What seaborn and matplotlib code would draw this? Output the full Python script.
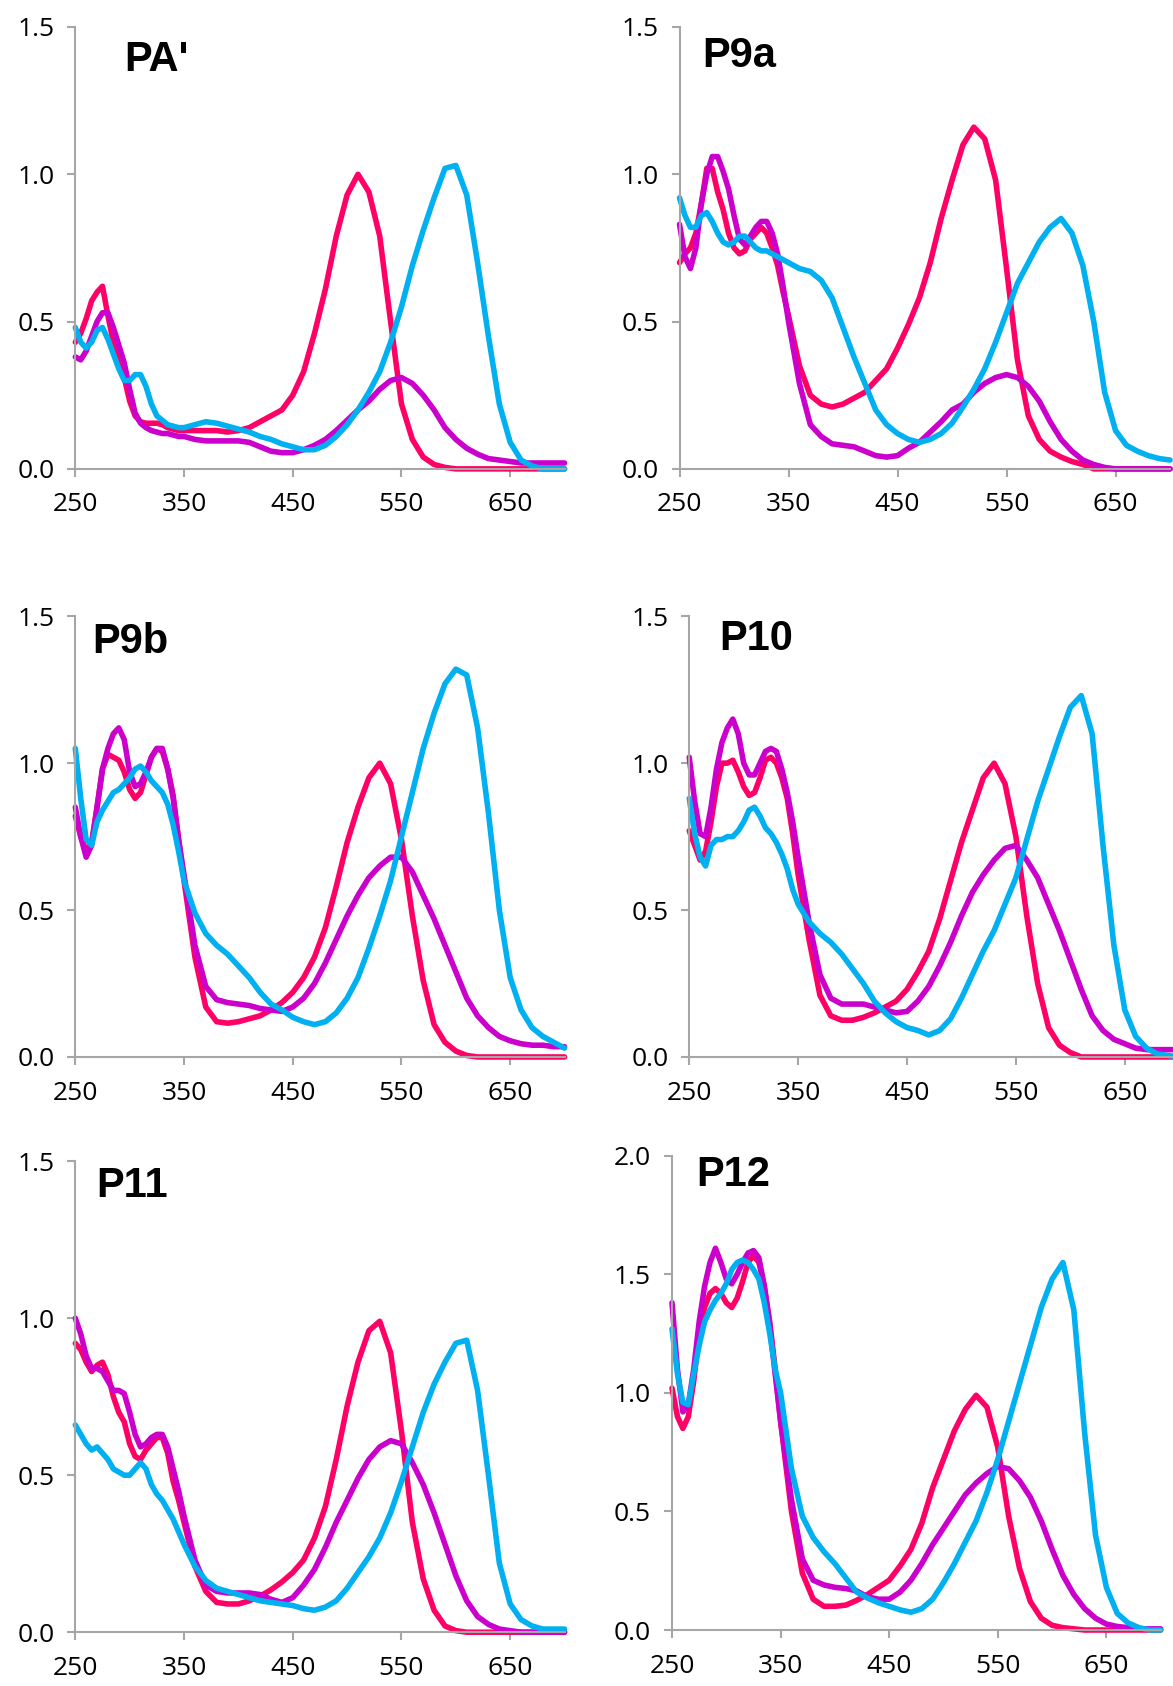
import matplotlib
matplotlib.use("Agg")
import matplotlib.pyplot as plt
import pandas as pd
import seaborn as sns

# wavelength grid (nm): 5 nm steps in the UV part, 10 nm afterwards
wavelength = [250, 255, 260, 265, 270, 275, 280, 285, 290, 295, 300, 305, 310, 315, 320, 325, 330, 335, 340, 345,
              350, 360, 370, 380, 390, 400, 410, 420, 430, 440, 450, 460, 470, 480, 490, 500, 510, 520, 530, 540,
              550, 560, 570, 580, 590, 600, 610, 620, 630, 640, 650, 660, 670, 680, 690, 700]

# PA'
pa_red = [0.43, 0.46, 0.51, 0.57, 0.60, 0.62, 0.52, 0.43, 0.36, 0.31, 0.23, 0.18, 0.16, 0.155, 0.155, 0.155, 0.15, 0.14, 0.135, 0.13,
          0.13, 0.13, 0.13, 0.13, 0.125, 0.13, 0.14, 0.16, 0.18, 0.20, 0.25, 0.33, 0.46, 0.61, 0.79, 0.93, 1.0, 0.94, 0.79, 0.50,
          0.22, 0.10, 0.04, 0.015, 0.005, 0, 0, 0, 0, 0, 0, 0, 0, 0, 0, 0]
pa_mag = [0.38, 0.37, 0.40, 0.45, 0.50, 0.53, 0.53, 0.48, 0.42, 0.36, 0.27, 0.19, 0.155, 0.14, 0.13, 0.125, 0.12, 0.12, 0.115, 0.11,
          0.11, 0.10, 0.095, 0.095, 0.095, 0.095, 0.09, 0.075, 0.06, 0.055, 0.055, 0.065, 0.08, 0.10, 0.13, 0.165, 0.20, 0.23, 0.27, 0.30,
          0.31, 0.29, 0.25, 0.20, 0.14, 0.10, 0.07, 0.05, 0.035, 0.03, 0.025, 0.02, 0.02, 0.02, 0.02, 0.02]
pa_cyan = [0.48, 0.43, 0.41, 0.43, 0.47, 0.48, 0.44, 0.39, 0.34, 0.30, 0.30, 0.32, 0.32, 0.28, 0.22, 0.18, 0.165, 0.15, 0.145, 0.14,
           0.14, 0.15, 0.16, 0.155, 0.145, 0.135, 0.125, 0.11, 0.10, 0.085, 0.075, 0.065, 0.065, 0.08, 0.11, 0.15, 0.20, 0.26, 0.33, 0.43,
           0.55, 0.69, 0.81, 0.92, 1.02, 1.03, 0.93, 0.70, 0.45, 0.22, 0.09, 0.03, 0.01, 0, 0, 0]

# P9a
p9a_red = [0.70, 0.73, 0.75, 0.80, 0.90, 1.02, 1.02, 0.94, 0.88, 0.80, 0.75, 0.73, 0.74, 0.78, 0.80, 0.82, 0.80, 0.75, 0.69, 0.60,
           0.52, 0.35, 0.25, 0.22, 0.21, 0.22, 0.24, 0.26, 0.30, 0.34, 0.41, 0.49, 0.58, 0.70, 0.85, 0.98, 1.10, 1.16, 1.12, 0.98,
           0.68, 0.37, 0.18, 0.10, 0.06, 0.04, 0.025, 0.015, 0, 0, 0, 0, 0, 0, 0, 0]
p9a_mag = [0.83, 0.72, 0.68, 0.75, 0.90, 1.00, 1.06, 1.06, 1.01, 0.95, 0.86, 0.78, 0.76, 0.79, 0.82, 0.84, 0.84, 0.80, 0.73, 0.62,
           0.50, 0.29, 0.15, 0.11, 0.085, 0.08, 0.075, 0.06, 0.045, 0.04, 0.045, 0.07, 0.09, 0.125, 0.16, 0.20, 0.22, 0.26, 0.29, 0.31,
           0.32, 0.31, 0.28, 0.23, 0.16, 0.10, 0.06, 0.03, 0.015, 0.005, 0, 0, 0, 0, 0, 0]
p9a_cyan = [0.92, 0.86, 0.82, 0.82, 0.86, 0.87, 0.84, 0.80, 0.77, 0.76, 0.77, 0.79, 0.79, 0.77, 0.75, 0.74, 0.74, 0.73, 0.72, 0.71,
            0.70, 0.68, 0.67, 0.64, 0.58, 0.48, 0.38, 0.29, 0.20, 0.15, 0.12, 0.10, 0.09, 0.10, 0.12, 0.155, 0.21, 0.27, 0.34, 0.43,
            0.53, 0.63, 0.70, 0.77, 0.82, 0.85, 0.80, 0.69, 0.50, 0.26, 0.13, 0.08, 0.06, 0.045, 0.035, 0.03]

# P9b
p9b_red = [0.82, 0.75, 0.70, 0.73, 0.85, 0.98, 1.03, 1.02, 1.01, 0.97, 0.91, 0.88, 0.90, 0.96, 1.02, 1.05, 1.04, 0.98, 0.89, 0.74,
           0.60, 0.34, 0.17, 0.12, 0.115, 0.12, 0.13, 0.14, 0.16, 0.185, 0.22, 0.27, 0.34, 0.44, 0.58, 0.73, 0.85, 0.95, 1.00, 0.93,
           0.74, 0.48, 0.26, 0.11, 0.05, 0.02, 0.005, 0, 0, 0, 0, 0, 0, 0, 0, 0]
p9b_mag = [0.85, 0.75, 0.68, 0.72, 0.85, 0.98, 1.05, 1.10, 1.12, 1.08, 0.97, 0.92, 0.93, 0.97, 1.02, 1.05, 1.05, 0.98, 0.88, 0.74,
           0.62, 0.38, 0.24, 0.195, 0.185, 0.18, 0.175, 0.165, 0.16, 0.155, 0.17, 0.20, 0.25, 0.32, 0.40, 0.48, 0.55, 0.61, 0.65, 0.68,
           0.68, 0.63, 0.55, 0.47, 0.38, 0.29, 0.20, 0.14, 0.10, 0.07, 0.055, 0.045, 0.04, 0.04, 0.035, 0.035]
p9b_cyan = [1.05, 0.88, 0.74, 0.72, 0.80, 0.84, 0.87, 0.90, 0.91, 0.93, 0.95, 0.98, 0.99, 0.97, 0.94, 0.92, 0.90, 0.86, 0.79, 0.70,
            0.60, 0.49, 0.42, 0.38, 0.35, 0.31, 0.27, 0.22, 0.18, 0.16, 0.135, 0.12, 0.11, 0.12, 0.15, 0.20, 0.27, 0.37, 0.48, 0.60,
            0.75, 0.90, 1.05, 1.17, 1.27, 1.32, 1.30, 1.12, 0.83, 0.50, 0.27, 0.16, 0.10, 0.07, 0.05, 0.03]

# P10
p10_red = [0.77, 0.72, 0.67, 0.70, 0.80, 0.92, 1.00, 1.00, 1.01, 0.97, 0.92, 0.89, 0.90, 0.95, 1.01, 1.02, 1.00, 0.95, 0.88, 0.76,
           0.62, 0.40, 0.21, 0.14, 0.125, 0.125, 0.135, 0.15, 0.17, 0.19, 0.23, 0.29, 0.36, 0.47, 0.60, 0.73, 0.84, 0.95, 1.00, 0.93,
           0.75, 0.48, 0.25, 0.10, 0.04, 0.015, 0, 0, 0, 0, 0, 0, 0, 0, 0, 0]
p10_mag = [1.02, 0.87, 0.76, 0.75, 0.85, 0.98, 1.07, 1.12, 1.15, 1.10, 1.00, 0.96, 0.96, 1.00, 1.04, 1.05, 1.04, 0.98, 0.90, 0.80,
           0.68, 0.46, 0.28, 0.20, 0.18, 0.18, 0.18, 0.17, 0.16, 0.15, 0.155, 0.19, 0.24, 0.31, 0.39, 0.48, 0.56, 0.62, 0.67, 0.71,
           0.72, 0.67, 0.61, 0.52, 0.43, 0.33, 0.23, 0.14, 0.09, 0.06, 0.045, 0.03, 0.025, 0.025, 0.025, 0.025]
p10_cyan = [0.88, 0.76, 0.68, 0.65, 0.72, 0.74, 0.74, 0.75, 0.75, 0.77, 0.80, 0.84, 0.85, 0.82, 0.78, 0.76, 0.73, 0.69, 0.64, 0.57,
            0.52, 0.46, 0.42, 0.39, 0.35, 0.30, 0.25, 0.19, 0.15, 0.12, 0.10, 0.09, 0.075, 0.09, 0.13, 0.20, 0.28, 0.36, 0.43, 0.52,
            0.61, 0.74, 0.87, 0.98, 1.09, 1.19, 1.23, 1.10, 0.72, 0.38, 0.16, 0.07, 0.03, 0.01, 0.005, 0]

# P11
p11_red = [0.92, 0.90, 0.86, 0.83, 0.85, 0.86, 0.82, 0.75, 0.70, 0.67, 0.60, 0.56, 0.55, 0.58, 0.60, 0.62, 0.62, 0.57, 0.48, 0.42,
           0.35, 0.21, 0.13, 0.095, 0.09, 0.09, 0.10, 0.115, 0.135, 0.16, 0.19, 0.23, 0.30, 0.40, 0.55, 0.72, 0.86, 0.96, 0.99, 0.89,
           0.64, 0.35, 0.17, 0.07, 0.02, 0.005, 0, 0, 0, 0, 0, 0, 0, 0, 0, 0]
p11_mag = [1.00, 0.95, 0.88, 0.84, 0.84, 0.83, 0.80, 0.77, 0.77, 0.76, 0.70, 0.63, 0.59, 0.60, 0.62, 0.63, 0.63, 0.59, 0.52, 0.45,
           0.37, 0.23, 0.15, 0.13, 0.125, 0.125, 0.125, 0.12, 0.105, 0.095, 0.11, 0.15, 0.20, 0.27, 0.35, 0.42, 0.49, 0.55, 0.59, 0.61,
           0.60, 0.54, 0.47, 0.38, 0.28, 0.18, 0.10, 0.05, 0.025, 0.01, 0.005, 0, 0, 0, 0, 0]
p11_cyan = [0.66, 0.63, 0.60, 0.58, 0.59, 0.57, 0.55, 0.52, 0.51, 0.50, 0.50, 0.52, 0.54, 0.52, 0.47, 0.44, 0.42, 0.39, 0.36, 0.32,
            0.28, 0.21, 0.165, 0.14, 0.13, 0.12, 0.11, 0.10, 0.095, 0.09, 0.085, 0.075, 0.07, 0.08, 0.10, 0.14, 0.19, 0.24, 0.30, 0.38,
            0.48, 0.59, 0.70, 0.79, 0.86, 0.92, 0.93, 0.77, 0.50, 0.22, 0.09, 0.04, 0.02, 0.01, 0.01, 0.01]

# P12
p12_red = [1.02, 0.90, 0.85, 0.90, 1.05, 1.25, 1.36, 1.42, 1.44, 1.42, 1.38, 1.36, 1.40, 1.47, 1.55, 1.58, 1.55, 1.45, 1.30, 1.10,
           0.88, 0.50, 0.24, 0.13, 0.10, 0.10, 0.105, 0.125, 0.15, 0.18, 0.21, 0.27, 0.34, 0.45, 0.60, 0.72, 0.84, 0.93, 0.99, 0.94,
           0.77, 0.48, 0.26, 0.12, 0.05, 0.02, 0.01, 0.005, 0, 0, 0, 0, 0, 0, 0, 0]
p12_mag = [1.38, 1.10, 0.92, 0.95, 1.10, 1.30, 1.45, 1.55, 1.61, 1.55, 1.48, 1.46, 1.50, 1.55, 1.59, 1.60, 1.57, 1.45, 1.28, 1.08,
           0.88, 0.55, 0.30, 0.21, 0.19, 0.18, 0.175, 0.165, 0.14, 0.13, 0.13, 0.16, 0.21, 0.28, 0.36, 0.43, 0.50, 0.57, 0.62, 0.66,
           0.69, 0.68, 0.63, 0.56, 0.46, 0.34, 0.23, 0.15, 0.09, 0.05, 0.025, 0.015, 0.01, 0.005, 0.005, 0.005]
p12_cyan = [1.27, 1.08, 0.96, 0.95, 1.08, 1.20, 1.30, 1.35, 1.39, 1.42, 1.46, 1.52, 1.55, 1.56, 1.55, 1.52, 1.48, 1.38, 1.25, 1.10,
            1.00, 0.68, 0.48, 0.39, 0.33, 0.28, 0.22, 0.16, 0.135, 0.115, 0.10, 0.085, 0.075, 0.09, 0.13, 0.20, 0.28, 0.37, 0.46, 0.58,
            0.72, 0.88, 1.04, 1.20, 1.36, 1.48, 1.55, 1.35, 0.83, 0.40, 0.18, 0.07, 0.03, 0.01, 0, 0]

titles = ["PA'", "P9a", "P9b", "P10", "P11", "P12"]
series = [
    (pa_red, pa_mag, pa_cyan),
    (p9a_red, p9a_mag, p9a_cyan),
    (p9b_red, p9b_mag, p9b_cyan),
    (p10_red, p10_mag, p10_cyan),
    (p11_red, p11_mag, p11_cyan),
    (p12_red, p12_mag, p12_cyan),
]
y_max = [1.5, 1.5, 1.5, 1.5, 1.5, 2.0]
x_ticks = [250, 350, 450, 550, 650]
palette = {"red": "#FF0066", "magenta": "#CC00CC", "cyan": "#00B0F0"}

# axes rectangles (figure fractions), title anchor in data coords
boxes = [
    [0.0642, 0.7219, 0.4171, 0.2621],
    [0.5793, 0.7219, 0.4182, 0.2621],
    [0.0642, 0.3731, 0.4171, 0.2614],
    [0.5876, 0.3731, 0.4177, 0.2614],
    [0.0642, 0.0319, 0.4171, 0.2794],
    [0.5729, 0.0332, 0.4166, 0.2813],
]
title_pos = [(295, 1.351), (270.6, 1.365), (265.6, 1.375), (278, 1.386), (269, 1.386), (272.3, 1.871)]

sns.set_style("white")
plt.rcParams["font.family"] = ["Open Sans", "DejaVu Sans"]
grey = "#a6a6a6"

fig = plt.figure(figsize=(11.73, 16.86), dpi=100)

for i in range(6):
    ax = fig.add_axes(boxes[i])
    red, mag, cyan = series[i]
    df = pd.DataFrame({
        "wavelength": wavelength * 3,
        "absorbance": red + mag + cyan,
        "trace": ["red"] * len(wavelength) + ["magenta"] * len(wavelength) + ["cyan"] * len(wavelength),
    })
    sns.lineplot(data=df, x="wavelength", y="absorbance", hue="trace", palette=palette,
                 estimator=None, sort=False, linewidth=4.0, legend=False, ax=ax)
    for line in ax.lines:
        line.set_clip_on(False)
        line.set_solid_joinstyle("round")
        line.set_solid_capstyle("round")

    ax.set_xlim(250, 700)
    ax.set_ylim(0, y_max[i])
    ax.set_xticks(x_ticks)
    ax.set_yticks([v / 2 for v in range(int(y_max[i] * 2) + 1)])
    ax.set_yticklabels([f"{v / 2:.1f}" for v in range(int(y_max[i] * 2) + 1)])
    ax.set_xlabel("")
    ax.set_ylabel("")
    sns.despine(ax=ax)
    for side in ["left", "bottom"]:
        ax.spines[side].set_color(grey)
        ax.spines[side].set_linewidth(1.5)
    ax.tick_params(axis="both", direction="out", length=6, width=1.5, color=grey,
                   labelsize=19, labelcolor="black")
    ax.tick_params(axis="y", pad=9, left=True)
    ax.tick_params(axis="x", pad=11, bottom=True)
    ax.text(title_pos[i][0], title_pos[i][1], titles[i], fontsize=30, fontweight="bold",
            family="Liberation Sans", ha="left", va="baseline", color="black")

fig.savefig("out.png", dpi=100)
